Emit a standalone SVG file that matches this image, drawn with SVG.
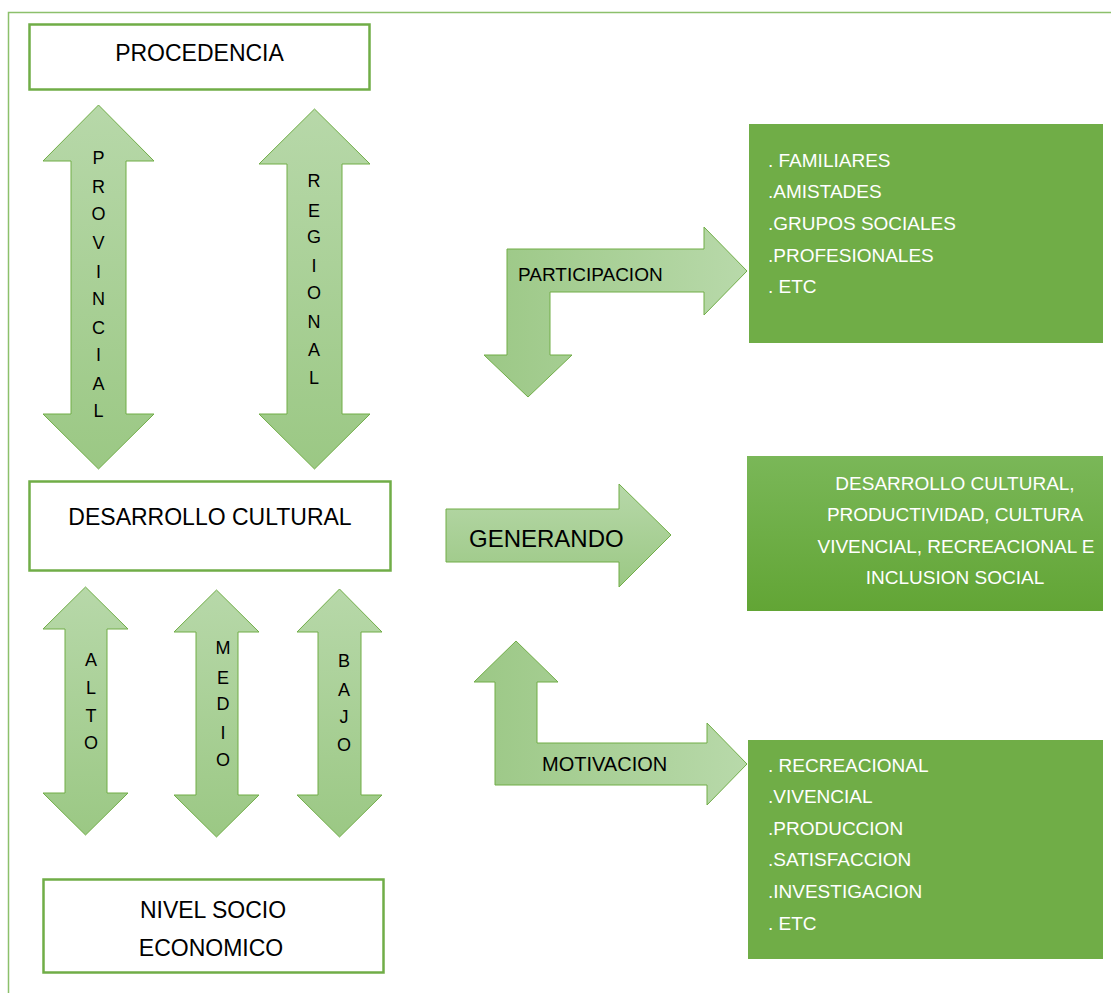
<svg xmlns="http://www.w3.org/2000/svg" width="1111" height="993" viewBox="0 0 1111 993">
<style>
.box{fill:#ffffff;stroke:#70AD47;stroke-width:2.5}
.arr{stroke:#70AD47;stroke-width:1;stroke-linejoin:miter}
.t{font-family:"Liberation Sans",Arial,sans-serif;fill:#000000}
.w{font-family:"Liberation Sans",Arial,sans-serif;fill:#ffffff;font-size:19px}
.v{font-family:"Liberation Sans",Arial,sans-serif;fill:#000000;font-size:18px;text-anchor:middle}
.g{fill:#70AD47}
</style>
<defs>
<linearGradient id="gv" x1="0" y1="0" x2="0" y2="1">
<stop offset="0" stop-color="#b7d8a9"/>
<stop offset="1" stop-color="#9bc884"/>
</linearGradient>
<linearGradient id="gh" x1="0" y1="0" x2="1" y2="0">
<stop offset="0" stop-color="#9cc886"/>
<stop offset="1" stop-color="#b8d9aa"/>
</linearGradient>
<linearGradient id="gb" x1="0" y1="0" x2="0" y2="1">
<stop offset="0" stop-color="#7ab758"/>
<stop offset="1" stop-color="#62a535"/>
</linearGradient>
</defs>

<g id="frame">
<path d="M8.5,993 L8.5,12.5 L1111,12.5" fill="none" stroke="#8cc06b" stroke-width="1.5"/>
</g>

<g id="connectors">
<g id="arrow-provincial">
<polygon class="arr" fill="url(#gv)" points="98.5,105 154,161 126,161 126,414 154,414 98.5,469 43,414 71,414 71,161 43,161"/>
<text class="v" x="98.5" y="164">P</text>
<text class="v" x="98.5" y="193">R</text>
<text class="v" x="98.5" y="220">O</text>
<text class="v" x="98.5" y="249">V</text>
<text class="v" x="98.5" y="278">I</text>
<text class="v" x="98.5" y="305">N</text>
<text class="v" x="98.5" y="334">C</text>
<text class="v" x="98.5" y="361">I</text>
<text class="v" x="98.5" y="390">A</text>
<text class="v" x="98.5" y="417">L</text>
</g>
<g id="arrow-regional">
<polygon class="arr" fill="url(#gv)" points="314.5,109 370,164 342,164 342,414 370,414 314.5,469 259,414 287,414 287,164 259,164"/>
<text class="v" x="314" y="187">R</text>
<text class="v" x="314" y="217">E</text>
<text class="v" x="314" y="243">G</text>
<text class="v" x="314" y="272">I</text>
<text class="v" x="314" y="299">O</text>
<text class="v" x="314" y="328">N</text>
<text class="v" x="314" y="356">A</text>
<text class="v" x="314" y="384">L</text>
</g>
<g id="arrow-alto">
<polygon class="arr" fill="url(#gv)" points="85.5,587 128,629 107,629 107,793 128,793 85.5,835 43,793 65,793 65,629 43,629"/>
<text class="v" x="91" y="666">A</text>
<text class="v" x="91" y="694">L</text>
<text class="v" x="91" y="722">T</text>
<text class="v" x="91" y="749">O</text>
</g>
<g id="arrow-medio">
<polygon class="arr" fill="url(#gv)" points="216.5,590 259,632 238,632 238,795 259,795 216.5,837 174,795 196,795 196,632 174,632"/>
<text class="v" x="223" y="654">M</text>
<text class="v" x="223" y="684">E</text>
<text class="v" x="223" y="710">D</text>
<text class="v" x="223" y="739">I</text>
<text class="v" x="223" y="766">O</text>
</g>
<g id="arrow-bajo">
<polygon class="arr" fill="url(#gv)" points="339.5,589 382,632 361,632 361,795 382,795 339.5,837 297,795 318,795 318,632 297,632"/>
<text class="v" x="344" y="667">B</text>
<text class="v" x="344" y="696">A</text>
<text class="v" x="344" y="723">J</text>
<text class="v" x="344" y="751">O</text>
</g>
<g id="arrow-participacion">
<polygon class="arr" fill="url(#gh)" points="507,249 704,249 704,227 747,271 704,315 704,292 550,292 550,355 572,355 528,397 484,355 507,355"/>
<text class="t" x="518" y="281" font-size="19">PARTICIPACION</text>
</g>
<g id="arrow-generando">
<polygon class="arr" fill="url(#gv)" points="446,509 619,509 619,484 671,535 619,587 619,562 446,562"/>
<text class="t" x="469" y="547" font-size="24">GENERANDO</text>
</g>
<g id="arrow-motivacion">
<polygon class="arr" fill="url(#gh)" points="516,641 558,682 537,682 537,743 707,743 707,723 747,764 707,805 707,785 495,785 495,682 474,682"/>
<text class="t" x="542" y="771" font-size="20">MOTIVACION</text>
</g>
</g>

<g id="procedencia">
<rect class="box" x="29.5" y="24.5" width="340" height="65"/>
<text class="t" x="199.5" y="61" font-size="23" text-anchor="middle">PROCEDENCIA</text>
</g>

<g id="desarrollo">
<rect class="box" x="29.5" y="481.5" width="361" height="89"/>
<text class="t" x="210" y="525" font-size="23" text-anchor="middle">DESARROLLO CULTURAL</text>
</g>

<g id="nivel">
<rect class="box" x="43.5" y="879.5" width="340" height="93"/>
<text class="t" x="213" y="918" font-size="23" text-anchor="middle">NIVEL SOCIO</text>
<text class="t" x="211" y="956" font-size="23" text-anchor="middle">ECONOMICO</text>
</g>

<g id="participacion-list">
<rect class="g" x="749" y="124" width="354" height="219"/>
<text class="w" x="768" y="167">. FAMILIARES</text>
<text class="w" x="768" y="198">.AMISTADES</text>
<text class="w" x="768" y="230">.GRUPOS SOCIALES</text>
<text class="w" x="768" y="262">.PROFESIONALES</text>
<text class="w" x="768" y="293">. ETC</text>
</g>

<g id="resultado">
<rect x="747" y="456" width="356" height="155" fill="url(#gb)"/>
<text class="w" x="955" y="490" text-anchor="middle">DESARROLLO CULTURAL,</text>
<text class="w" x="955" y="521" text-anchor="middle">PRODUCTIVIDAD, CULTURA</text>
<text class="w" x="956" y="553" text-anchor="middle">VIVENCIAL, RECREACIONAL E</text>
<text class="w" x="955" y="584" text-anchor="middle">INCLUSION SOCIAL</text>
</g>

<g id="motivacion-list">
<rect class="g" x="748" y="740" width="355" height="219"/>
<text class="w" x="768" y="772">. RECREACIONAL</text>
<text class="w" x="768" y="803">.VIVENCIAL</text>
<text class="w" x="768" y="835">.PRODUCCION</text>
<text class="w" x="768" y="866">.SATISFACCION</text>
<text class="w" x="768" y="898">.INVESTIGACION</text>
<text class="w" x="768" y="930">. ETC</text>
</g>
</svg>
